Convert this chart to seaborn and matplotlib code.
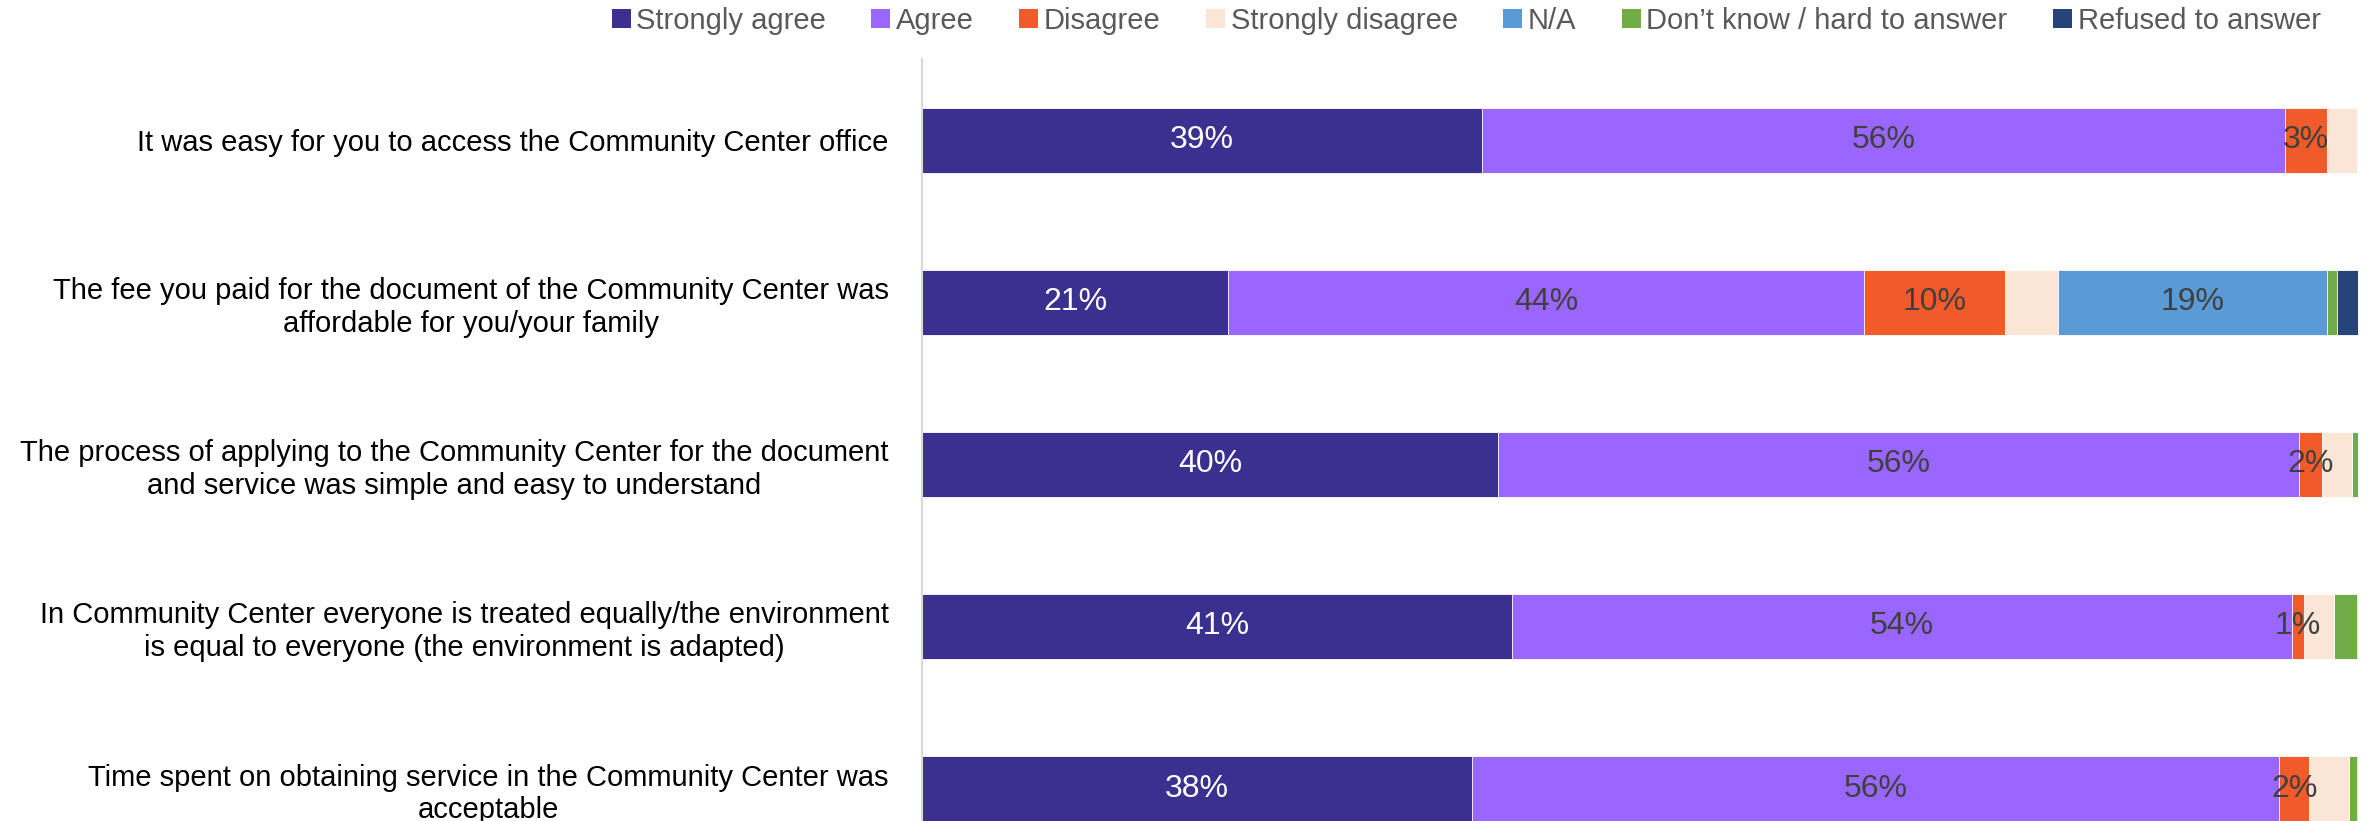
import matplotlib
matplotlib.use("Agg")
import matplotlib.pyplot as plt
from matplotlib.patches import Patch
import numpy as np
import pandas as pd
import seaborn as sns

statements = [
    "It was easy for you to access the Community Center office",
    "The fee you paid for the document of the Community Center was\naffordable for you/your family",
    "The process of applying to the Community Center for the document\nand service was simple and easy to understand",
    "In Community Center everyone is treated equally/the environment\nis equal to everyone (the environment is adapted)",
    "Time spent on obtaining service in the Community Center was\nacceptable",
]

responses = ["Strongly agree", "Agree", "Disagree", "Strongly disagree",
             "N/A", "Don\u2019t know / hard to answer", "Refused to answer"]

strongly_agree    = [39.0, 21.3, 40.1, 41.1, 38.3]
agree             = [55.9, 44.3, 55.8, 54.3, 56.2]
disagree          = [2.9, 9.8, 1.6, 0.8, 2.1]
strongly_disagree = [2.1, 3.7, 2.1, 2.1, 2.8]
not_applicable    = [0.0, 18.7, 0.0, 0.0, 0.0]
dont_know         = [0.1, 0.7, 0.4, 1.6, 0.5]
refused           = [0.0, 1.5, 0.0, 0.1, 0.1]

colors = ["#3B3090", "#9966FF", "#F15A29", "#FBE5D6",
          "#5B9BD5", "#70AD47", "#264478"]
label_colors = {"Strongly agree": "white", "Agree": "#404040",
                "Disagree": "#404040", "N/A": "#404040"}

series = [strongly_agree, agree, disagree, strongly_disagree,
          not_applicable, dont_know, refused]
df = pd.DataFrame(dict(zip(responses, series)), index=statements)
cum = df.cumsum(axis=1)

sns.set_theme(style="white")
plt.rcParams["font.family"] = ["Liberation Sans", "DejaVu Sans"]

fig = plt.figure(figsize=(23.8, 8.21), dpi=100)
ax = fig.add_axes([0.3874, 0.0, 0.6034, 0.9281])

# stacked bars: draw cumulative totals from the last response to the first
for resp, col in reversed(list(zip(responses, colors))):
    sns.barplot(x=cum[resp].values, y=statements, orient="h", color=col,
                width=0.4, edgecolor="white", linewidth=0.6, ax=ax,
                saturation=1)

# percentage labels centred on their segments
for i, stmt in enumerate(statements):
    left = 0.0
    for resp in responses:
        v = df.loc[stmt, resp]
        if resp in label_colors and v > 0:
            ax.text(left + v / 2, i, f"{round(v):.0f}%", ha="center",
                    va="center", fontsize=23, color=label_colors[resp])
        left += v

ax.set_xlim(0, 100)
ax.set_ylim(4.2, -0.5)
ax.set_xticks([])
ax.set_xlabel("")
ax.set_ylabel("")
for s in ["top", "right", "bottom"]:
    ax.spines[s].set_visible(False)
ax.spines["left"].set_color("#D9D9D9")
ax.spines["left"].set_linewidth(1.5)
ax.tick_params(axis="y", length=0, pad=24, labelsize=21, labelcolor="black")
for t in ax.get_yticklabels():
    t.set_multialignment("center")

handles = [Patch(facecolor=c, edgecolor="none") for c in colors]
leg = fig.legend(handles, responses, loc="center", bbox_to_anchor=(0.616, 0.975),
                 ncol=7, frameon=False, fontsize=21, handlelength=0.65,
                 handleheight=0.65, handletextpad=0.2, columnspacing=1.55)
for t in leg.get_texts():
    t.set_color("#595959")

fig.savefig("out.png", dpi=100)
